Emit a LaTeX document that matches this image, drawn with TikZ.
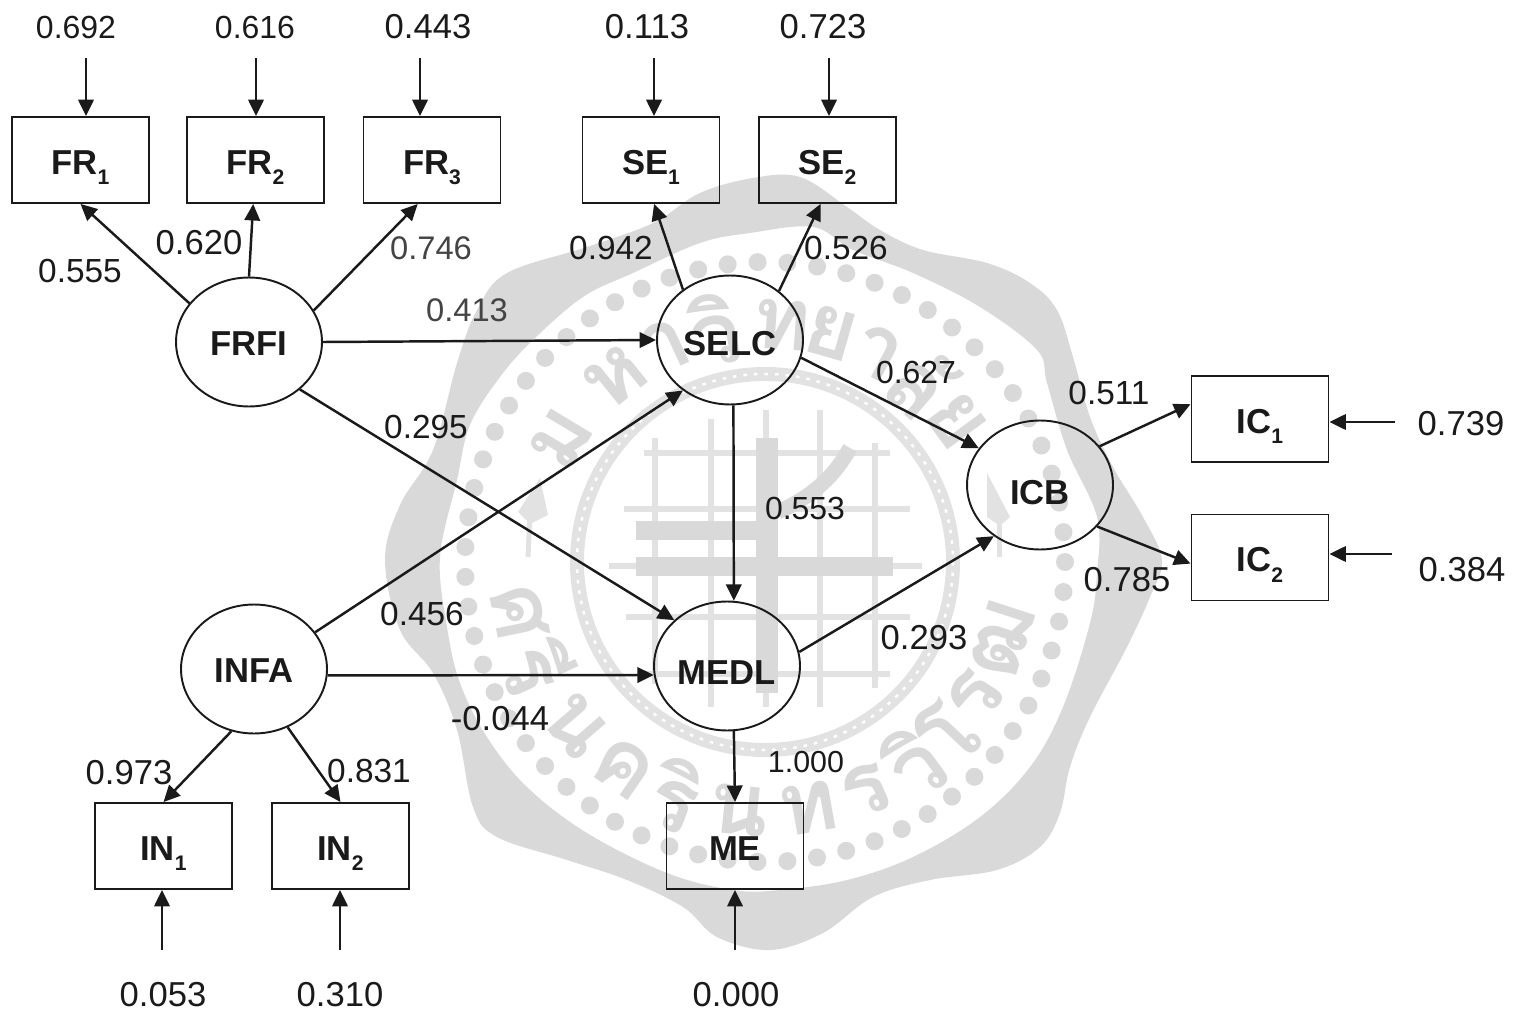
\documentclass[tikz,border=0pt]{standalone}
\usepackage{fontspec}
\setmainfont{Liberation Sans}
\newfontfamily\sealfont[Script=Thai]{Loma}
\usetikzlibrary{shapes.geometric, arrows.meta}
\definecolor{sealgrey}{RGB}{217, 217, 217}
\definecolor{gridgrey}{RGB}{226, 226, 226}
\definecolor{inkdark}{RGB}{26, 26, 26}
\definecolor{inkdim}{RGB}{68, 68, 68}
\newcommand{\idx}[1]{\smash{\raisebox{-0.3em}{\fontsize{12}{12}\selectfont #1}}}
\tikzset{
    obsbox/.style={draw=inkdark, line width=1.1pt, minimum width=2.74cm, minimum height=1.72cm,
        inner sep=0pt, text height=16.3pt, text depth=0pt, font=\fontsize{19.7}{22}\selectfont\bfseries, text=inkdark},
    latent/.style={draw=inkdark, ellipse, line width=1.1pt, minimum width=2.92cm, minimum height=2.58cm,
        inner sep=0pt, text depth=0pt, font=\fontsize{19.7}{22}\selectfont\bfseries, text=inkdark},
    coef/.style={font=\fontsize{19.7}{22}\selectfont, text=inkdark},
    coefmid/.style={font=\fontsize{19}{22}\selectfont, text=inkdark},
    coefsm/.style={font=\fontsize{18.2}{20}\selectfont, text=inkdark},
    coefdim/.style={font=\fontsize{18.6}{20}\selectfont, text=inkdim},
    path/.style={draw=inkdark, line width=1.4pt, -{Triangle[length=0.33cm, width=0.31cm]}},
    sealchar/.style={sealgrey, font=\fontsize{50}{50}\selectfont\sealfont\bfseries},
    gridline/.style={gridgrey, line width=0.12cm},
    gridbar/.style={sealgrey, line width=0.38cm}
}
\begin{document}
\begin{tikzpicture}[x=0.02cm, y=-0.02cm]
    \useasboundingbox (0,0) rectangle (1514,1013);

    % Seal in the background: outer band
    \fill[sealgrey, even odd rule]
        plot[smooth cycle, tension=0.6] coordinates {(385,560) (400,505) (433,450) (457,363) (477,310) (507,273)
            (587,247) (653,223) (700,193) (753,178) (800,177) (847,207) (880,230) (923,250) (987,263)
            (1030,283) (1057,310) (1073,357) (1090,417) (1113,467) (1143,517) (1162,560) (1150,597)
            (1127,647) (1090,717) (1070,767) (1060,813) (1040,847) (997,870) (930,880) (873,897)
            (823,933) (770,950) (717,937) (683,907) (627,880) (567,860) (497,837) (473,807)
            (457,730) (433,673) (400,630)}
        plot[smooth cycle, tension=0.6] coordinates {(440,557) (457,480) (470,425) (500,377) (533,340) (583,297)
            (633,273) (700,243) (750,233) (813,227) (853,250) (913,273) (980,307) (1037,350)
            (1047,383) (1067,450) (1097,517) (1097,573) (1090,623) (1063,707) (1030,767) (980,817)
            (913,857) (847,880) (780,890) (733,890) (667,873) (587,833) (527,787) (487,737)
            (460,683) (447,627)};

    % Ring of dots and beaded ring
    \foreach \a in {0,5.714,...,357} {
        \fill[sealgrey] ({765+300*cos(\a)},{562-300*sin(\a)}) circle (9);
    }
    \draw[gridgrey, line width=0.28cm] (765,562) circle (188);
    \draw[white, line width=0.05cm, dash pattern=on 2pt off 4pt] (765,562) circle (188);

    % Grid in the middle of the seal
    \draw[gridline] (644,453) -- (890,453);
    \draw[gridline] (624,509) -- (910,509);
    \draw[gridline] (609,566) -- (922,566);
    \draw[gridline] (626,617) -- (910,617);
    \draw[gridline] (646,674) -- (890,674);
    \draw[gridline] (655,438) -- (655,684);
    \draw[gridline] (711,419) -- (711,707);
    \draw[gridline] (766,410) -- (766,707);
    \draw[gridline] (820,410) -- (820,707);
    \draw[gridline] (875,443) -- (875,688);
    \draw[gridbar] (636,530) -- (768,530);
    \draw[gridbar] (636,566) -- (893,566);
    \draw[sealgrey, line width=0.44cm] (767,438) -- (767,693);
    \draw[sealgrey, line width=0.3cm] (778,512) .. controls (815,495) and (835,475) .. (850,448);

    % Spear marks left and right
    \fill[gridgrey] (540,478) -- (548,515) -- (530,524) -- (518,512) -- cycle;
    \draw[gridgrey, line width=0.1cm] (530,515) -- (528,557);
    \fill[gridgrey] (987,473) -- (1010,517) -- (1000,526) -- (987,517) -- cycle;
    \draw[gridgrey, line width=0.1cm] (999,515) -- (999,557);

    % Name of the seal, upper and lower half
    \foreach \a/\c [count=\i] in {149/ม, 129/ห, 115/า, 102/วิ, 86/ท, 74/ย, 62/า, 49/ลั, 36.5/ย} {
        \node[sealchar, rotate=\a-90] (sealtop\i) at ({765+238*cos(\a)},{562-238*sin(\a)}) {\c};
    }
    \foreach \a/\c [count=\i] in {191.6/ศ, 204.9/รี, 220.7/น, 235.5/ค, 249.3/ริ, 263.9/น, 280/ท, 293.8/ร, 306.6/วิ, 316.7/โ, 327.5/ร, 342/ฒ} {
        \node[sealchar, rotate=\a+90] (sealbot\i) at ({765+250*cos(\a)},{562-250*sin(\a)}) {\c};
    }

    % Observed variables
    \node[obsbox] (FR1) at (80.5,160) {FR\idx{1}};
    \node[obsbox] (FR2) at (255.5,160) {FR\idx{2}};
    \node[obsbox] (FR3) at (432,160) {FR\idx{3}};
    \node[obsbox] (SE1) at (651,160) {SE\idx{1}};
    \node[obsbox] (SE2) at (827.5,160) {SE\idx{2}};
    \node[obsbox] (IC1) at (1260,419) {IC\idx{1}};
    \node[obsbox] (IC2) at (1260,557.5) {IC\idx{2}};
    \node[obsbox] (IN1) at (163.5,846) {IN\idx{1}};
    \node[obsbox] (IN2) at (340.5,846) {IN\idx{2}};
    \node[obsbox] (ME) at (735,846) {ME};

    % Latent variables
    \node[latent, text height=15pt] (FRFI) at (249,342) {FRFI};
    \node[latent, text height=17.5pt] (SELC) at (730,340) {SELC};
    \node[latent, text height=15pt] (INFA) at (254,669) {INFA\hspace{4pt}};
    \node[latent, text height=20.9pt] (MEDL) at (727,666) {MEDL};
    \node[latent, text height=22pt] (ICB) at (1040,485) {ICB};

    % Free ends of the error arrows
    \coordinate (eFR1) at (86,58);
    \coordinate (eFR2) at (256,58);
    \coordinate (eFR3) at (420,58);
    \coordinate (eSE1) at (654,58);
    \coordinate (eSE2) at (829,58);
    \coordinate (eIC1) at (1395,422);
    \coordinate (eIC2) at (1392,554);
    \coordinate (eIN1) at (162,950);
    \coordinate (eIN2) at (340,950);
    \coordinate (eME) at (735,950);

    % Error arrows
    \draw[path] (eFR1) -- (eFR1 |- FR1.north);
    \draw[path] (eFR2) -- (eFR2 |- FR2.north);
    \draw[path] (eFR3) -- (eFR3 |- FR3.north);
    \draw[path] (eSE1) -- (eSE1 |- SE1.north);
    \draw[path] (eSE2) -- (eSE2 |- SE2.north);
    \draw[path] (eIC1) -- (eIC1 -| IC1.east);
    \draw[path] (eIC2) -- (eIC2 -| IC2.east);
    \draw[path] (eIN1) -- (eIN1 |- IN1.south);
    \draw[path] (eIN2) -- (eIN2 |- IN2.south);
    \draw[path] (eME) -- (eME |- ME.south);

    % Paths between the variables
    \draw[path] (FRFI.147) -- (FR1.south);
    \draw[path] (FRFI.north) -- (FR2.-93);
    \draw[path] (FRFI.26) -- (FR3.-108);
    \draw[path] (FRFI.east) -- (SELC.west);
    \draw[path] (FRFI.-43) -- (MEDL.139);
    \draw[path] (INFA.31) -- (SELC.227);
    \draw[path] (INFA.-5) -- (MEDL.187);
    \draw[path] (INFA.-110) -- (IN1.north);
    \draw[path] (INFA.-60) -- (IN2.north);
    \draw[path] (SELC.133) -- (SE1.-86);
    \draw[path] (SELC.45) -- (SE2.-99);
    \draw[path] (SELC.-14) -- (ICB.149);
    \draw[path] (SELC.-87) -- (MEDL.84);
    \draw[path] (MEDL.11) -- (ICB.228);
    \draw[path] (MEDL.-84) -- (ME.north);
    \draw[path] (ICB.33) -- (IC1.168);
    \draw[path] (ICB.-36) -- (IC2.185);

    % Labels
    \node[coefsm] (v692) at (76,27) {0.692};
    \node[coefsm] (v616) at (255,27) {0.616};
    \node[coef] (v443) at (428,27) {0.443};
    \node[coef] (v113) at (647,27) {0.113};
    \node[coef] (v723) at (823,27) {0.723};
    \node[coefmid] (v555) at (80,271) {0.555};
    \node[coef] (v620) at (199,243) {0.620};
    \node[coefdim] (v746) at (431,248) {0.746};
    \node[coefmid] (v942) at (611,248) {0.942};
    \node[coefmid] (v526) at (846,248) {0.526};
    \node[coefdim] (v413) at (467,310) {0.413};
    \node[coefmid] (v295) at (426,427) {0.295};
    \node[coefsm] (v627) at (916,372) {0.627};
    \node[coefmid] (v511) at (1109,393) {0.511};
    \node[coef] (v739) at (1461,424) {0.739};
    \node[coefsm] (v553) at (805,508) {0.553};
    \node[coefmid] (v456) at (422,614) {0.456};
    \node[coef] (v293) at (924,638) {0.293};
    \node[coef] (v785) at (1127,580) {0.785};
    \node[coef] (v384) at (1462,570) {0.384};
    \node[coef] (v044) at (500,719) {-0.044};
    \node[coef] (v973) at (129,773) {0.973};
    \node[coefmid] (v831) at (369,771) {0.831};
    \node[coefsm, font=\fontsize{17.3}{20}\selectfont] (v100) at (806,762) {1.000};
    \node[coef] (v053) at (163,995) {0.053};
    \node[coef] (v310) at (340,995) {0.310};
    \node[coef] (v000) at (736,995) {0.000};
\end{tikzpicture}
\end{document}
